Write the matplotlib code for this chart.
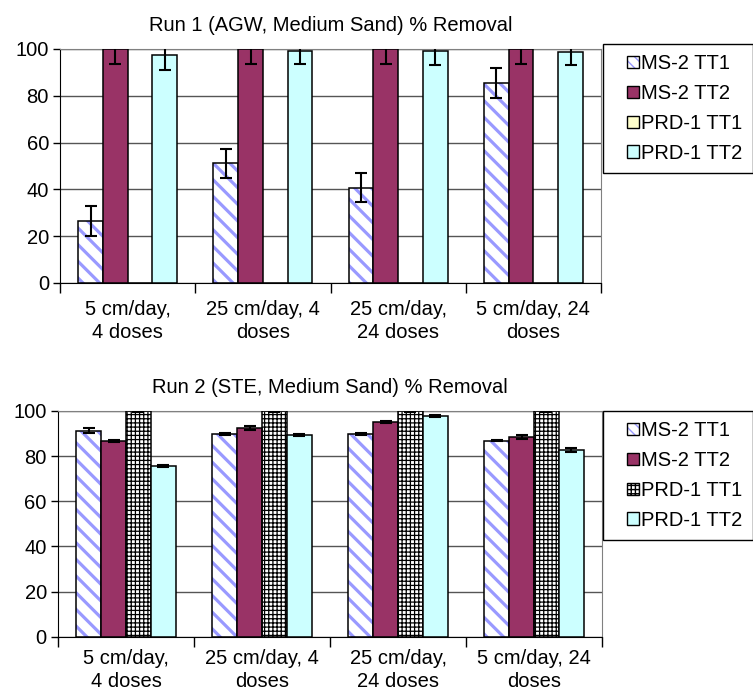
import matplotlib
matplotlib.use('Agg')
import matplotlib.pyplot as plt
import numpy as np
from matplotlib.patches import Patch, Rectangle
from matplotlib.legend_handler import HandlerPatch

plt.rcParams['font.family'] = ['Liberation Sans', 'DejaVu Sans']
plt.rcParams['font.size'] = 14.5

categories = ['5 cm/day,\n4 doses', '25 cm/day, 4\ndoses',
              '25 cm/day,\n24 doses', '5 cm/day, 24\ndoses']
series = ['MS-2 TT1', 'MS-2 TT2', 'PRD-1 TT1', 'PRD-1 TT2']

# Run 1 (AGW)
run1_vals = [
    [26.6, 51.2, 40.6, 85.4],   # MS-2 TT1
    [100.0, 100.0, 100.0, 100.0],  # MS-2 TT2
    [0.0, 0.0, 0.0, 0.0],       # PRD-1 TT1
    [97.4, 99.0, 99.0, 98.9],   # PRD-1 TT2
]
run1_err = [
    [6.4, 6.2, 6.2, 6.3],
    [6.5, 6.5, 6.5, 6.5],
    [0.0, 0.0, 0.0, 0.0],
    [6.3, 5.5, 5.8, 5.8],
]

# Run 2 (STE)
run2_vals = [
    [91.3, 89.8, 89.8, 86.9],
    [86.7, 92.4, 95.2, 88.4],
    [100.0, 100.0, 100.0, 100.0],
    [75.8, 89.3, 97.7, 82.9],
]
run2_err = [
    [1.0, 0.4, 0.4, 0.4],
    [0.4, 1.0, 0.5, 0.9],
    [0.4, 0.4, 0.4, 0.4],
    [0.5, 0.5, 0.5, 0.9],
]

BLUE = '#9999FF'
PLUM = '#993366'
YELLOW = '#FFFFCC'
CYAN = '#CCFFFF'


def hatched(ax, x, h, w, color, hatch, lw):
    with plt.rc_context({'hatch.linewidth': lw}):
        bars = ax.bar(x, h, w, color='white', edgecolor=color, hatch=hatch,
                      linewidth=0, zorder=2)
    for b in bars:
        if hasattr(b, 'set_hatch_linewidth'):
            b.set_hatch_linewidth(lw)
    ax.bar(x, h, w, fill=False, edgecolor='black', linewidth=1.1, zorder=3)


def square_handle(legend, orig_handle, xdescent, ydescent, width, height, fontsize):
    s = 0.62 * fontsize
    return Rectangle((width - s - xdescent, -ydescent + (height - s) / 2), s, s)


def panel(ax, title, vals, errs, prd1_style, lab_pad, lab_ls):
    n = len(categories)
    centers = np.arange(n) + 0.5
    w = 0.183
    for k in range(4):
        x = centers + (k - 1.5) * w
        v = np.array(vals[k])
        if k == 0:
            hatched(ax, x, v, w, BLUE, '\\\\', 2.3)
        elif k == 1:
            ax.bar(x, v, w, color=PLUM, edgecolor='black', linewidth=1.1, zorder=3)
        elif k == 2:
            if prd1_style == 'grid':
                hatched(ax, x, v, w, 'black', '++++', 0.9)
            else:
                ax.bar(x, v, w, color=YELLOW, edgecolor='black', linewidth=1.1, zorder=3)
        else:
            ax.bar(x, v, w, color=CYAN, edgecolor='black', linewidth=1.1, zorder=3)
        e = np.array(errs[k])
        m = e > 0
        ax.errorbar(x[m], v[m], yerr=e[m], fmt='none', ecolor='black',
                    elinewidth=1.5, capsize=4.3, capthick=1.5, zorder=4)

    ax.set_xlim(0, n)
    ax.set_ylim(0, 100)
    ax.set_yticks(np.arange(0, 101, 20))
    ax.yaxis.grid(True, color='#555555', linewidth=1, zorder=0)
    ax.set_axisbelow(True)
    ax.set_xticks(np.arange(n + 1))
    ax.set_xticklabels([])
    ax.set_xticks(centers, minor=True)
    ax.set_xticklabels(categories, minor=True, linespacing=lab_ls)
    ax.tick_params(axis='x', which='major', length=7, width=1, direction='out')
    ax.tick_params(axis='x', which='minor', length=0, pad=lab_pad)
    ax.tick_params(axis='y', length=5, width=1, direction='out', pad=3)
    ax.spines['left'].set_color('black')
    ax.spines['bottom'].set_color('black')
    ax.spines['top'].set_color('#808080')
    ax.spines['right'].set_color('#808080')
    ax.set_title(title, fontsize=14.5, pad=13)

    # legend handles
    with plt.rc_context({'hatch.linewidth': 1.5}):
        h1 = (Patch(facecolor='white', edgecolor=BLUE, hatch='\\\\\\', linewidth=0),
              Patch(fill=False, edgecolor='black', linewidth=1))
    h2 = Patch(facecolor=PLUM, edgecolor='black', linewidth=1)
    if prd1_style == 'grid':
        with plt.rc_context({'hatch.linewidth': 0.8}):
            h3 = (Patch(facecolor='white', edgecolor='black', hatch='++++', linewidth=0),
                  Patch(fill=False, edgecolor='black', linewidth=1))
    else:
        h3 = Patch(facecolor=YELLOW, edgecolor='black', linewidth=1)
    h4 = Patch(facecolor=CYAN, edgecolor='black', linewidth=1)
    return [h1, h2, h3, h4]


fig = plt.figure(figsize=(7.53, 6.96), dpi=100)
ax1 = fig.add_axes([0.0797, 0.5934, 0.7185, 0.3362])
ax2 = fig.add_axes([0.0770, 0.0850, 0.7225, 0.3245])

hs1 = panel(ax1, 'Run 1 (AGW, Medium Sand) % Removal', run1_vals, run1_err,
            'plain', 12, 1.32)
hs2 = panel(ax2, 'Run 2 (STE, Medium Sand) % Removal', run2_vals, run2_err,
            'grid', 9, 1.24)

for hs, anchor in [(hs1, (0.8008, 0.9368)), (hs2, (0.8008, 0.4095))]:
    leg = fig.legend(hs, series, loc='upper left', bbox_to_anchor=anchor,
                     borderaxespad=0, fancybox=False, framealpha=1,
                     edgecolor='black', fontsize=14.5, handlelength=1.3,
                     handleheight=0.7, handletextpad=0.1, labelspacing=0.54,
                     borderpad=0.5,
                     handler_map={Patch: HandlerPatch(patch_func=square_handle)})
    leg.get_frame().set_linewidth(1)

fig.savefig('out.png', dpi=100)
